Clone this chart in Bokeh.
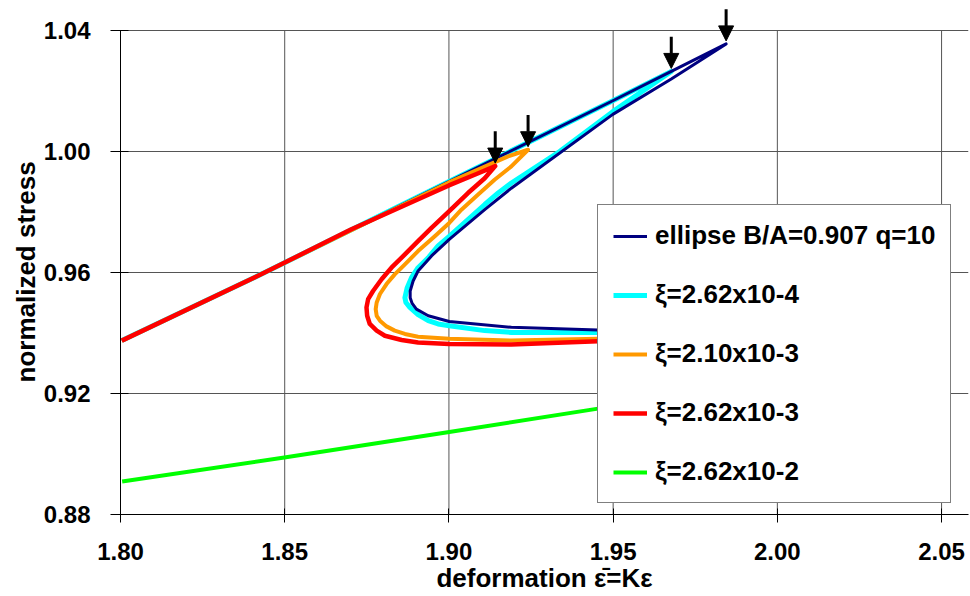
from bokeh.plotting import figure
from bokeh.models import (ColumnDataSource, FixedTicker, NumeralTickFormatter, Legend,
                          LegendItem, Arrow, NormalHead, Range1d, Title)
from bokeh.embed import file_html
from bokeh.resources import INLINE

# ---------------- data ----------------
x_ticks = [1.80, 1.85, 1.90, 1.95, 2.00, 2.05]
y_ticks = [0.88, 0.92, 0.96, 1.00, 1.04]

x_title = "deformation \u03b5\u0304=K\u03b5"
y_title = "normalized stress"
labels = ["ellipse B/A=0.907 q=10", "\u03be=2.62x10-4", "\u03be=2.10x10-3",
          "\u03be=2.62x10-3", "\u03be=2.62x10-2"]
colors = ["#000080", "#00FFFF", "#FF9900", "#FF0000", "#00FF00"]

ellipse_x = [1.8004, 1.8439, 1.9000, 1.9499, 1.9677, 1.9844,
             1.9677, 1.9499, 1.9190, 1.9109, 1.9001, 1.8947, 1.8906, 1.8891, 1.8882,
             1.8882, 1.8888, 1.8901, 1.8937, 1.9001, 1.9190, 1.9454, 1.9500]
ellipse_y = [0.9375, 0.9600, 0.9901, 1.0168, 1.0265, 1.0356,
             1.0240, 1.0123, 0.9879, 0.9808, 0.9710, 0.9655, 0.9605, 0.9572, 0.9539,
             0.9517, 0.9498, 0.9479, 0.9457, 0.9438, 0.9419, 0.9410, 0.9410]

xi1_x = [1.8004, 1.8439, 1.9000, 1.9499, 1.9677,
         1.9499, 1.9337, 1.9190, 1.9150, 1.9109, 1.9058, 1.9001, 1.8967, 1.8937,
         1.8906, 1.8886, 1.8873, 1.8866, 1.8869, 1.8881, 1.8906, 1.8937, 1.8967,
         1.9001, 1.9109, 1.9190, 1.9454, 1.9500]
xi1_y = [0.9375, 0.9600, 0.9901, 1.0168, 1.0265,
         1.0132, 1.0000, 0.9896, 0.9863, 0.9825, 0.9775, 0.9720, 0.9688, 0.9649,
         0.9616, 0.9583, 0.9550, 0.9517, 0.9501, 0.9485, 0.9461, 0.9441, 0.9430,
         0.9424, 0.9408, 0.9402, 0.9402, 0.9402]

xi2_x = [1.8004, 1.8439, 1.9000, 1.9180, 1.9241,
         1.9190, 1.9139, 1.9089, 1.9038, 1.9001, 1.8957, 1.8906, 1.8866, 1.8835,
         1.8810, 1.8790, 1.8780, 1.8777, 1.8780, 1.8790, 1.8810, 1.8835, 1.8866,
         1.8906, 1.9001, 1.9190, 1.9454, 1.9500]
xi2_y = [0.9375, 0.9600, 0.9898, 0.9984, 1.0006,
         0.9951, 0.9907, 0.9858, 0.9808, 0.9764, 0.9720, 0.9671, 0.9627, 0.9594,
         0.9562, 0.9529, 0.9501, 0.9479, 0.9457, 0.9441, 0.9422, 0.9408, 0.9397,
         0.9388, 0.9381, 0.9375, 0.9381, 0.9382]

xi3_x = [1.8004, 1.8439, 1.8703, 1.9000, 1.9084, 1.9141,
         1.9109, 1.9058, 1.9001, 1.8947, 1.8906, 1.8866, 1.8825, 1.8795, 1.8769,
         1.8754, 1.8749, 1.8751, 1.8759, 1.8780, 1.8805, 1.8856, 1.8906, 1.9001,
         1.9190, 1.9454, 1.9500]
xi3_y = [0.9375, 0.9600, 0.9743, 0.9888, 0.9926, 0.9952,
         0.9912, 0.9863, 0.9803, 0.9748, 0.9704, 0.9660, 0.9616, 0.9578, 0.9539,
         0.9512, 0.9485, 0.9457, 0.9430, 0.9408, 0.9391, 0.9377, 0.9369, 0.9364,
         0.9362, 0.9373, 0.9375]

xi4_x = [1.8005, 1.8504, 1.9001, 1.9454, 1.9500]
xi4_y = [0.8909, 0.8989, 0.9073, 0.9150, 0.9158]

# ---------------- figure ----------------
FONT = "Liberation Sans"
GRID = "#555555"

p = figure(width=970, height=596,
           x_range=Range1d(1.80, 2.0582), y_range=Range1d(0.88, 1.0483),
           output_backend="svg", toolbar_location=None,
           min_border_left=120, min_border_right=2,
           min_border_top=5, min_border_bottom=82)
p.outline_line_color = None
p.background_fill_color = "white"
p.border_fill_color = "white"

# horizontal grid lines (span the whole frame width)
p.ygrid.ticker = FixedTicker(ticks=y_ticks)
p.ygrid.grid_line_color = GRID
p.ygrid.grid_line_width = 1
# vertical grid lines stop at the top value 1.04
p.xgrid.visible = False
p.segment(x0=x_ticks, y0=[y_ticks[0]] * len(x_ticks), x1=x_ticks,
          y1=[y_ticks[-1]] * len(x_ticks), line_color=GRID, line_width=1)

for ax, t in ((p.xaxis, x_ticks), (p.yaxis, y_ticks)):
    ax.ticker = FixedTicker(ticks=t)
    ax.formatter = NumeralTickFormatter(format="0.00")
    ax.axis_line_color = "black"
    ax.axis_line_width = 1
    ax.major_tick_line_color = "black"
    ax.minor_tick_line_color = None
    ax.major_label_text_font = FONT
    ax.major_label_text_font_style = "bold"
    ax.major_label_text_font_size = "24px"
    ax.major_label_text_color = "black"
    ax.axis_label_text_font = FONT
    ax.axis_label_text_font_style = "bold"
    ax.axis_label_text_font_size = "26px"
    ax.axis_label_text_color = "black"

p.yaxis.bounds = (y_ticks[0], y_ticks[-1])

p.xaxis.major_tick_in = 6
p.xaxis.major_tick_out = 8
p.xaxis.major_label_standoff = 20
p.xaxis.axis_label = x_title
p.xaxis.axis_label_standoff = 0

p.yaxis.major_tick_in = 8
p.yaxis.major_tick_out = 10
p.yaxis.major_label_standoff = 20

# y-axis title as a side title, placed so it is centred on the 0.88 .. 1.04 span
p.add_layout(Title(text=y_title, align="left", offset=132, standoff=0,
                   text_font=FONT, text_font_style="bold", text_font_size="26px",
                   text_color="black"), "left")

# draw order: cyan, navy, orange, red, green
r_cyan = p.line(xi1_x, xi1_y, line_color=colors[1], line_width=5, line_join="round")
r_navy = p.line(ellipse_x, ellipse_y, line_color=colors[0], line_width=3, line_join="round")
r_orng = p.line(xi2_x, xi2_y, line_color=colors[2], line_width=4, line_join="round")
r_red = p.line(xi3_x, xi3_y, line_color=colors[3], line_width=4.5, line_join="round")
r_grn = p.line(xi4_x, xi4_y, line_color=colors[4], line_width=4, line_join="round")

# arrows pointing at the tip (highest point) of each folded curve
curves = [(ellipse_x, ellipse_y), (xi1_x, xi1_y), (xi2_x, xi2_y), (xi3_x, xi3_y)]
tip_x, tip_y = [], []
for cx, cy in curves:
    i = max(range(len(cy)), key=lambda k: cy[k])
    tip_x.append(cx[i])
    tip_y.append(cy[i])
arrow_src = ColumnDataSource(dict(
    x=tip_x,
    ys=[v + 0.0115 for v in tip_y],
    ye=[v + 0.0010 for v in tip_y],
))
p.add_layout(Arrow(x_start="x", y_start="ys", x_end="x", y_end="ye", source=arrow_src,
                   line_color="black", line_width=3,
                   end=NormalHead(size=15, fill_color="black", line_color="black")))

legend = Legend(items=[
    LegendItem(label=labels[0], renderers=[r_navy]),
    LegendItem(label=labels[1], renderers=[r_cyan]),
    LegendItem(label=labels[2], renderers=[r_orng]),
    LegendItem(label=labels[3], renderers=[r_red]),
    LegendItem(label=labels[4], renderers=[r_grn]),
], location=(477, 11))
legend.margin = 0
legend.padding = 15
legend.spacing = 28
legend.label_height = 30
legend.glyph_height = 30
legend.glyph_width = 34
legend.label_standoff = 8
legend.label_text_font = FONT
legend.label_text_font_style = "bold"
legend.label_text_font_size = "26px"
legend.label_text_color = "black"
legend.border_line_color = "black"
legend.border_line_width = 1.5
legend.background_fill_color = "white"
legend.background_fill_alpha = 1.0
p.add_layout(legend)

open("out.html", "w").write(file_html(p, INLINE))
